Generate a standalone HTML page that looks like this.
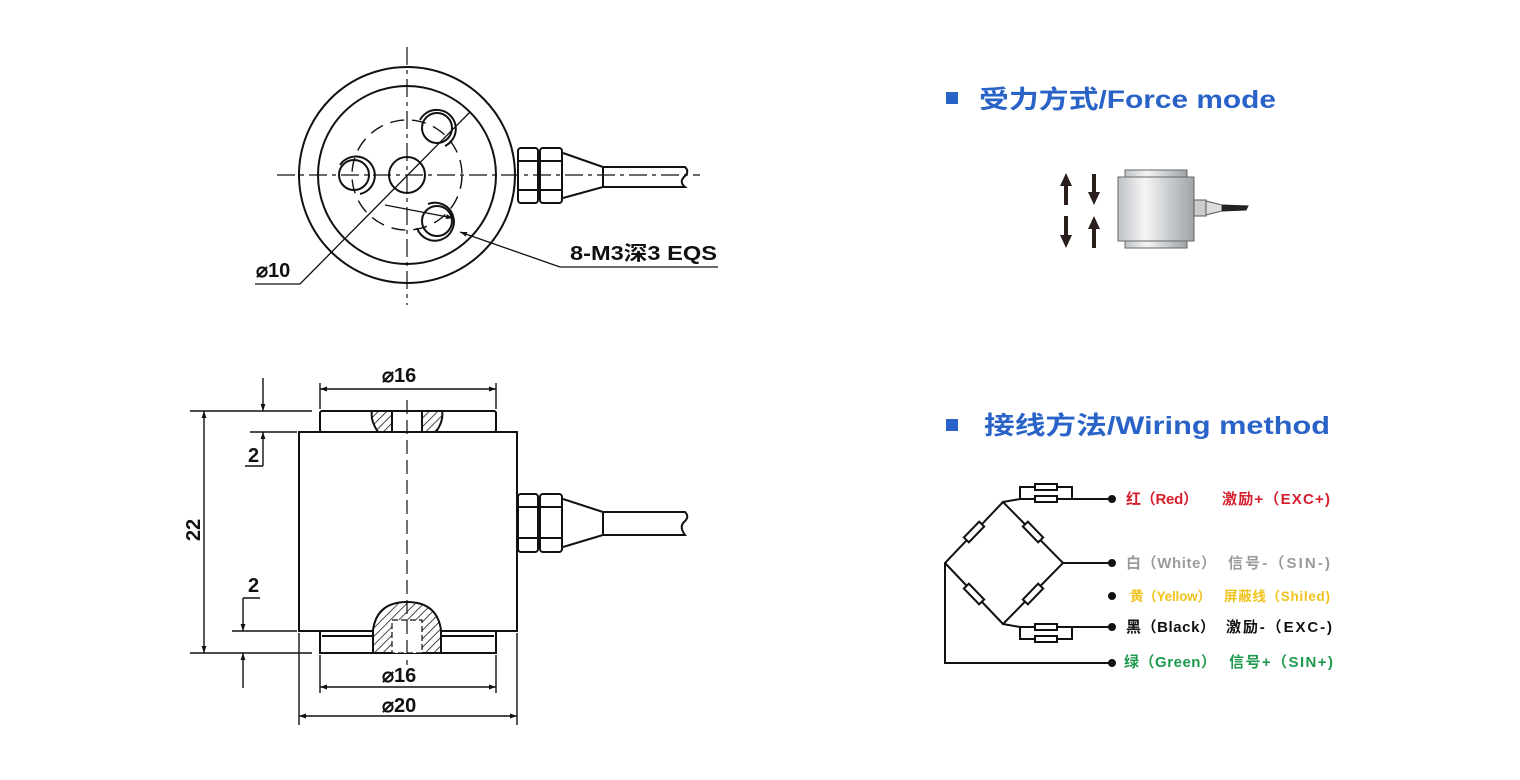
<!DOCTYPE html>
<html><head><meta charset="utf-8"><style>
html,body{margin:0;padding:0;background:#fff;width:1520px;height:780px;overflow:hidden}
svg{display:block}
text{font-family:"Liberation Sans","Noto Sans CJK SC",sans-serif;font-weight:bold}
</style></head><body>
<svg width="1520" height="780" viewBox="0 0 1520 780" xmlns="http://www.w3.org/2000/svg">
<defs>
<marker id="a" viewBox="0 0 10 10" refX="10" refY="5" markerWidth="10" markerHeight="7" orient="auto-start-reverse" markerUnits="userSpaceOnUse"><path d="M0,1.5 L10,5 L0,8.5Z" fill="#111"/></marker>
<pattern id="h" patternUnits="userSpaceOnUse" width="6" height="6" patternTransform="rotate(45)"><rect width="6" height="6" fill="#fff"/><line x1="0" y1="0" x2="0" y2="6" stroke="#111" stroke-width="1.5"/></pattern>
<linearGradient id="g" x1="0" x2="1"><stop offset="0" stop-color="#bfc3c6"/><stop offset=".35" stop-color="#f4f5f6"/><stop offset="1" stop-color="#9ea3a7"/></linearGradient>
</defs>
<g fill="none" stroke="#111" stroke-width="2">
<circle cx="407" cy="175" r="108"/>
<circle cx="407" cy="175" r="89"/>
<circle cx="407" cy="175" r="55" stroke-dasharray="14 8" stroke-width="1.4"/>
<circle cx="407" cy="175" r="18"/>
<circle cx="354" cy="175" r="15"/><path d="M340,165 A19,19 0 1 1 360,194" />
<circle cx="437" cy="128" r="15"/><path d="M420,120 A19,19 0 1 1 445,146"/>
<circle cx="437" cy="221" r="15"/><path d="M428,204 A19,19 0 1 1 417,228"/>
<g stroke-dasharray="18 5 4 5" stroke-width="1.2">
<line x1="277" y1="175" x2="700" y2="175"/>
<line x1="407" y1="47" x2="407" y2="305"/>
</g>
<rect x="518" y="148" width="20" height="55" rx="3"/><rect x="540" y="148" width="22" height="55" rx="3"/>
<line x1="518" y1="161" x2="538" y2="161"/><line x1="518" y1="190" x2="538" y2="190"/>
<line x1="540" y1="161" x2="562" y2="161"/><line x1="540" y1="190" x2="562" y2="190"/>
<path d="M563,153 L603,167 L603,187 L563,198"/>
<path d="M603,167 L685,167 Q690,172 684,177 Q679,182 685,187 L603,187"/>
<path d="M255,284 L300,284 L470,112" stroke-width="1.3"/>
<path d="M560,267 L718,267" stroke-width="1.3"/>
<line x1="560" y1="267" x2="460" y2="232" stroke-width="1.3" marker-end="url(#a)"/>
<line x1="385" y1="205" x2="453" y2="218" stroke-width="1.3" marker-end="url(#a)"/>
<rect x="299" y="432" width="218" height="199"/>
<rect x="320" y="411" width="176" height="21" rx="2"/>
<path d="M320,631 L320,653 L496,653 L496,631"/><line x1="322" y1="636" x2="494" y2="636"/>
<path d="M372,411 L392,411 L392,432 L378,432 Q370,420 372,411Z" fill="url(#h)"/>
<path d="M442,411 L422,411 L422,432 L436,432 Q444,420 442,411Z" fill="url(#h)"/>
<path d="M373,653 L373,630 Q377,602 407,602 Q437,602 441,630 L441,653Z" fill="url(#h)"/>
<rect x="392" y="620" width="30" height="33" fill="#fff" stroke-dasharray="6 3" stroke-width="1.2"/>
<line x1="407" y1="400" x2="407" y2="665" stroke-dasharray="14 6" stroke-width="1.2"/>
<rect x="518" y="494" width="20" height="58" rx="3"/><rect x="540" y="494" width="22" height="58" rx="3"/>
<line x1="518" y1="507" x2="538" y2="507"/><line x1="518" y1="538" x2="538" y2="538"/>
<line x1="540" y1="507" x2="562" y2="507"/><line x1="540" y1="538" x2="562" y2="538"/>
<path d="M563,499 L603,512 L603,535 L563,547"/>
<path d="M603,512 L685,512 Q690,517 684,522 Q679,527 685,535 L603,535"/>
<g stroke-width="1.4">
<line x1="320" y1="383" x2="320" y2="409"/><line x1="496" y1="383" x2="496" y2="409"/>
<line x1="320" y1="389" x2="496" y2="389" marker-start="url(#a)" marker-end="url(#a)"/>
<line x1="190" y1="411" x2="312" y2="411"/><line x1="250" y1="432" x2="297" y2="432"/>
<line x1="190" y1="653" x2="312" y2="653"/><line x1="232" y1="631" x2="297" y2="631"/>
<line x1="204" y1="411" x2="204" y2="653" marker-start="url(#a)" marker-end="url(#a)"/>
<line x1="263" y1="378" x2="263" y2="411" marker-end="url(#a)"/>
<line x1="263" y1="466" x2="263" y2="432" marker-end="url(#a)"/>
<line x1="245" y1="466" x2="263" y2="466"/>
<line x1="243" y1="598" x2="260" y2="598"/>
<line x1="243" y1="598" x2="243" y2="631" marker-end="url(#a)"/>
<line x1="243" y1="688" x2="243" y2="653" marker-end="url(#a)"/>
<line x1="320" y1="655" x2="320" y2="693"/><line x1="496" y1="655" x2="496" y2="693"/>
<line x1="320" y1="687" x2="496" y2="687" marker-start="url(#a)" marker-end="url(#a)"/>
<line x1="299" y1="633" x2="299" y2="725"/><line x1="517" y1="633" x2="517" y2="725"/>
<line x1="299" y1="716" x2="517" y2="716" marker-start="url(#a)" marker-end="url(#a)"/>
</g>
</g>
<g fill="#111" font-size="20">
<text x="256" y="277">⌀10</text>
<text x="570" y="260" textLength="147" lengthAdjust="spacingAndGlyphs">8-M3深3 EQS</text>
<text x="382" y="382">⌀16</text>
<text x="382" y="682">⌀16</text>
<text x="382" y="712">⌀20</text>
<text x="248" y="462">2</text>
<text x="248" y="592">2</text>
<text transform="translate(200,530) rotate(-90)" text-anchor="middle">22</text>
</g>
<rect x="946" y="92" width="12" height="12" fill="#2a63c8"/>
<rect x="946" y="419" width="12" height="12" fill="#2a63c8"/>
<g fill="#2a63c8" font-size="25"><text x="979" y="108" textLength="297" lengthAdjust="spacingAndGlyphs">受力方式/Force mode</text><text x="984" y="434" textLength="346" lengthAdjust="spacingAndGlyphs">接线方法/Wiring method</text></g>
<g fill="#2a1f1c">
<path d="M1066,173 L1060,186 L1064,186 L1064,205 L1068,205 L1068,186 L1072,186Z"/>
<path d="M1094,205 L1088,192 L1092,192 L1092,174 L1096,174 L1096,192 L1100,192Z"/>
<path d="M1066,248 L1060,235 L1064,235 L1064,216 L1068,216 L1068,235 L1072,235Z"/>
<path d="M1094,216 L1088,229 L1092,229 L1092,248 L1096,248 L1096,229 L1100,229Z"/>
</g>
<rect x="1125" y="170" width="62" height="8" fill="url(#g)" stroke="#666"/>
<rect x="1125" y="240" width="62" height="8" fill="url(#g)" stroke="#666"/>
<rect x="1118" y="177" width="76" height="64" fill="url(#g)" stroke="#666"/>
<rect x="1194" y="200" width="12" height="16" fill="#ccc" stroke="#555"/>
<path d="M1206,201 L1222,205 L1222,211 L1206,215Z" fill="#ddd" stroke="#555"/>
<path d="M1222,205 L1248,206 L1246,210 L1222,211" fill="#222" stroke="#222"/>
<g fill="none" stroke="#111" stroke-width="2">
<path d="M1112,663 L945,663 L945,563 L1003,502 L1063,563 L1003,624 L945,563"/>
<path d="M1003,502 L1020,499 L1112,499"/><path d="M1020,499 L1020,487 L1072,487 L1072,499"/>
<path d="M1063,563 L1112,563"/>
<path d="M1003,624 L1020,627 L1112,627"/><path d="M1020,627 L1020,639 L1072,639 L1072,627"/>
<g fill="#fff">
<rect x="1035" y="484" width="22" height="6"/><rect x="1035" y="496" width="22" height="6"/>
<rect x="1035" y="624" width="22" height="6"/><rect x="1035" y="636" width="22" height="6"/>
<rect x="-11" y="-3.5" width="22" height="7" transform="translate(974,532) rotate(-46)"/>
<rect x="-11" y="-3.5" width="22" height="7" transform="translate(1033,532) rotate(46)"/>
<rect x="-11" y="-3.5" width="22" height="7" transform="translate(974,594) rotate(46)"/>
<rect x="-11" y="-3.5" width="22" height="7" transform="translate(1033,594) rotate(-46)"/>
</g>
</g>
<g fill="#111"><circle cx="1112" cy="499" r="4"/><circle cx="1112" cy="563" r="4"/><circle cx="1112" cy="596" r="4"/><circle cx="1112" cy="627" r="4"/><circle cx="1112" cy="663" r="4"/></g>
<g font-size="15">
<text x="1126" y="504" fill="#d5202c" textLength="72">红（Red）</text><text x="1222" y="504" fill="#d5202c" textLength="108">激励+（EXC+)</text>
<text x="1126" y="568" fill="#9a9a9a" textLength="90">白（White）</text><text x="1228" y="568" fill="#9a9a9a" textLength="102">信号-（SIN-)</text>
<text x="1130" y="601" fill="#f0c21a" font-size="13.5" textLength="81">黄（Yellow）</text><text x="1224" y="601" fill="#f0c21a" font-size="13.5" textLength="106">屏蔽线（Shiled)</text>
<text x="1126" y="632" fill="#111" textLength="89">黑（Black）</text><text x="1226" y="632" fill="#111" textLength="106">激励-（EXC-)</text>
<text x="1124" y="667" fill="#1e9a4e" textLength="92">绿（Green）</text><text x="1229" y="667" fill="#1e9a4e" textLength="104">信号+（SIN+)</text>
</g>
</svg>
</body></html>
